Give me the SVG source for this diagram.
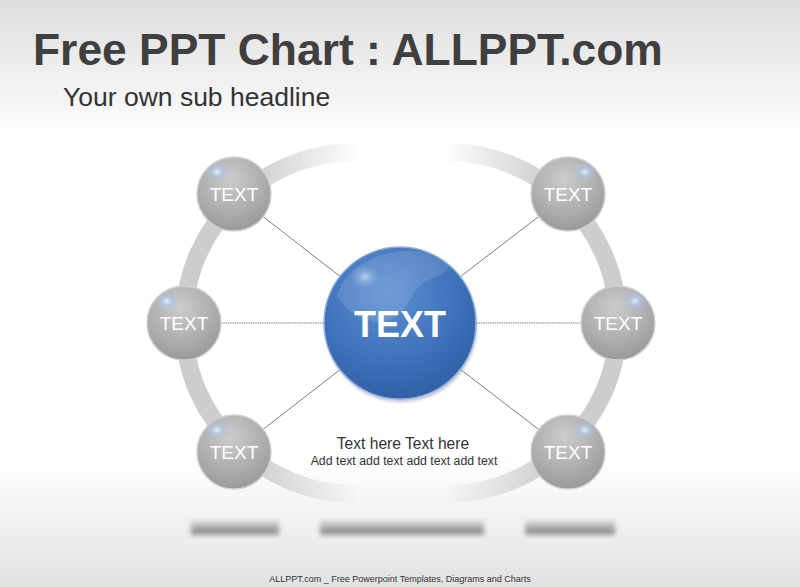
<svg xmlns="http://www.w3.org/2000/svg" width="800" height="587" viewBox="0 0 800 587">
<defs>
<linearGradient id="bg" x1="0" y1="0" x2="0" y2="1">
<stop offset="0" stop-color="#dedede"/>
<stop offset="0.24" stop-color="#ffffff"/>
<stop offset="0.78" stop-color="#ffffff"/>
<stop offset="1" stop-color="#e2e2e2"/>
</linearGradient>
<linearGradient id="arcL" gradientUnits="userSpaceOnUse" x1="250" y1="0" x2="360" y2="0">
<stop offset="0" stop-color="#cdcdcd"/>
<stop offset="1" stop-color="#cdcdcd" stop-opacity="0"/>
</linearGradient>
<radialGradient id="gray" cx="0.45" cy="0.3" r="0.75">
<stop offset="0" stop-color="#cccccc"/>
<stop offset="0.6" stop-color="#adadad"/>
<stop offset="1" stop-color="#969696"/>
</radialGradient>
<radialGradient id="blue" cx="0.42" cy="0.3" r="0.75">
<stop offset="0" stop-color="#5d8fd0"/>
<stop offset="0.6" stop-color="#3e72ba"/>
<stop offset="1" stop-color="#2f5ea4"/>
</radialGradient>
<radialGradient id="hl" cx="0.5" cy="0.5" r="0.5">
<stop offset="0" stop-color="#e6f0ff" stop-opacity="0.95"/>
<stop offset="0.5" stop-color="#a8c4e6" stop-opacity="0.6"/>
<stop offset="1" stop-color="#a8c4e6" stop-opacity="0"/>
</radialGradient>
<linearGradient id="bar" x1="0" y1="0" x2="0" y2="1">
<stop offset="0" stop-color="#eeeeee"/>
<stop offset="0.2" stop-color="#d6d6d6"/>
<stop offset="0.5" stop-color="#a6a6a6"/>
<stop offset="0.65" stop-color="#9a9a9a"/>
<stop offset="0.85" stop-color="#cccccc"/>
<stop offset="1" stop-color="#ececec"/>
</linearGradient>
<filter id="blur" x="-0.1" y="-0.5" width="1.2" height="2"><feGaussianBlur stdDeviation="2.5 0.6"/></filter>
<filter id="sh" x="-0.3" y="-0.3" width="1.6" height="1.6"><feGaussianBlur stdDeviation="1.5"/></filter>
</defs>
<style>
.t{font-family:"Liberation Sans",Arial,sans-serif}
.node{fill:url(#gray);stroke:#d0d0d0;stroke-width:1.5}
.nt{font-family:"Liberation Sans",Arial,sans-serif;font-size:19px;fill:#ffffff;text-anchor:middle}
.ln{stroke:#6e6e6e;stroke-width:0.9;fill:none}
.arc{fill:none;stroke:url(#arcL);stroke-width:18}
</style>
<rect width="800" height="587" fill="url(#bg)"/>
<text class="t" x="33" y="65" font-size="44.4" font-weight="bold" fill="#3f3f3f">Free PPT Chart : ALLPPT.com</text>
<text class="t" x="63" y="106" font-size="26.5" fill="#333333">Your own sub headline</text>
<g id="arcs">
<path class="arc" d="M355,152 C270,152 184,220 184,323 C184,426 270,494 355,494"/>
<path class="arc" transform="translate(802,0) scale(-1,1)" d="M355,152 C270,152 184,220 184,323 C184,426 270,494 355,494"/>
</g>
<g id="bars" filter="url(#blur)">
<rect x="191" y="518" width="88" height="21" fill="url(#bar)"/>
<rect x="320" y="518" width="164" height="21" fill="url(#bar)"/>
<rect x="525" y="518" width="90" height="21" fill="url(#bar)"/>
</g>
<g id="connectors">
<line class="ln" x1="234" y1="194" x2="400" y2="323"/>
<line class="ln" x1="184" y1="323" x2="400" y2="323" stroke-dasharray="1.5 0.8"/>
<line class="ln" x1="234" y1="452" x2="400" y2="323"/>
<line class="ln" x1="568" y1="194" x2="400" y2="323"/>
<line class="ln" x1="618" y1="323" x2="400" y2="323" stroke-dasharray="1.5 0.8"/>
<line class="ln" x1="568" y1="452" x2="400" y2="323"/>
</g>
<g id="center">
<circle cx="401" cy="326" r="76" fill="#7a8aa0" opacity="0.5" filter="url(#sh)"/>
<circle cx="400" cy="323" r="76" fill="url(#blue)" stroke="#8fb0dc" stroke-width="1.5"/>
<path d="M337,296 C350,250 420,240 452,262 C440,285 425,270 410,300 C395,330 360,330 337,296 Z" fill="#ffffff" opacity="0.12"/>
<ellipse cx="365" cy="277" rx="14" ry="11" fill="url(#hl)" opacity="0.7"/>
<text class="t" x="400" y="337" font-size="36" font-weight="bold" fill="#ffffff" text-anchor="middle">TEXT</text>
</g>
<g id="n1">
<circle class="node" cx="234" cy="194" r="37"/>
<ellipse cx="217" cy="172" rx="12" ry="10" fill="url(#hl)"/>
<text class="nt" x="234" y="201">TEXT</text>
</g>
<g id="n2">
<circle class="node" cx="184" cy="323" r="37"/>
<ellipse cx="167" cy="301" rx="12" ry="10" fill="url(#hl)"/>
<text class="nt" x="184" y="330">TEXT</text>
</g>
<g id="n3">
<circle class="node" cx="234" cy="452" r="37"/>
<ellipse cx="217" cy="430" rx="12" ry="10" fill="url(#hl)"/>
<text class="nt" x="234" y="459">TEXT</text>
</g>
<g id="n4">
<circle class="node" cx="568" cy="194" r="37"/>
<ellipse cx="585" cy="172" rx="12" ry="10" fill="url(#hl)"/>
<text class="nt" x="568" y="201">TEXT</text>
</g>
<g id="n5">
<circle class="node" cx="618" cy="323" r="37"/>
<ellipse cx="635" cy="301" rx="12" ry="10" fill="url(#hl)"/>
<text class="nt" x="618" y="330">TEXT</text>
</g>
<g id="n6">
<circle class="node" cx="568" cy="452" r="37"/>
<ellipse cx="585" cy="430" rx="12" ry="10" fill="url(#hl)"/>
<text class="nt" x="568" y="459">TEXT</text>
</g>
<g id="caption">
<text class="t" x="403" y="449" font-size="15.6" fill="#333333" text-anchor="middle">Text here Text here</text>
<text class="t" x="404" y="465" font-size="12.3" fill="#333333" text-anchor="middle">Add text add text add text add text</text>
</g>
<text class="t" x="400" y="582" font-size="9" fill="#333333" text-anchor="middle">ALLPPT.com _ Free Powerpoint Templates, Diagrams and Charts</text>
</svg>
